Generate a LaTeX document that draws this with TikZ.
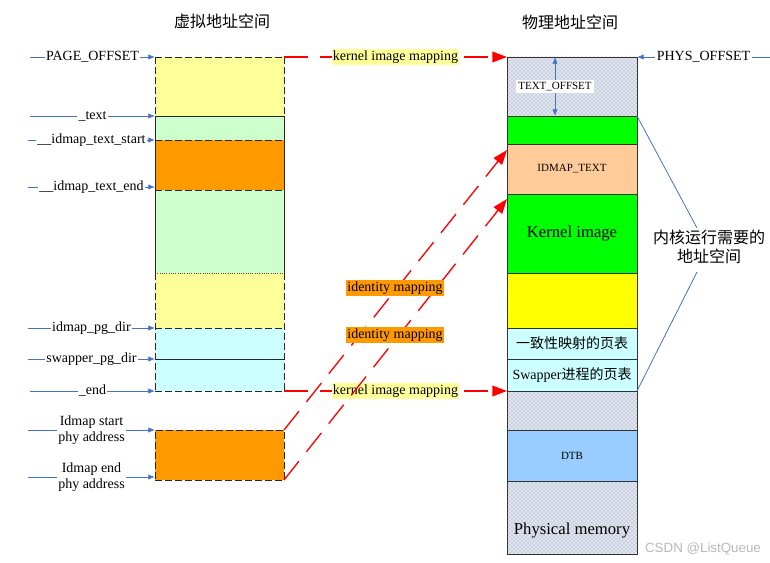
\documentclass[tikz,border=0pt]{standalone}
\usepackage{fontspec}
\setmainfont{Liberation Serif}
\newfontfamily\cjk{Noto Sans CJK SC}
\newfontfamily\wmfont{Liberation Sans}
\usetikzlibrary{arrows.meta,patterns}
\definecolor{vyellow}{HTML}{FFFF99}
\definecolor{vgreen}{HTML}{CCFFCC}
\definecolor{vorange}{HTML}{FF9900}
\definecolor{vcyan}{HTML}{CCFFFF}
\definecolor{pgreen}{HTML}{00FF00}
\definecolor{ppeach}{HTML}{FFCC99}
\definecolor{pyellow}{HTML}{FFFF00}
\definecolor{pdtb}{HTML}{99CCFF}
\definecolor{patbase}{HTML}{E0E4EE}
\definecolor{patdot}{HTML}{8E98B2}
\definecolor{blueln}{HTML}{4472C4}
\def\pxu{0.75pt}
\begin{document}
\begin{tikzpicture}[x=0.75pt,y=-0.75pt,
  seg/.style={rectangle, inner sep=0pt, outer sep=0pt, draw=none},
  vseg/.style={seg, minimum width=129*\pxu},
  pseg/.style={seg, draw=black!80, line width=0.6pt, minimum width=130*\pxu},
  patt/.style={preaction={fill=patbase}, pattern=crosshatch dots, pattern color=patdot},
  vdash/.style={draw=black!85, line width=0.7pt, dash pattern=on 5pt off 2.5pt},
  vsolid/.style={draw=black!85, line width=0.7pt},
  vdot/.style={draw=black!70, line width=0.7pt, densely dotted},
  bl/.style={draw=blueln, line width=0.6pt, -{Latex[length=5pt,width=4pt]}},
  rd/.style={draw=red, line width=1pt, dash pattern=on 18pt off 9pt, -{Triangle[length=11pt,width=8pt]}},
  lbl/.style={font=\fontsize{10.5}{12.5}\selectfont, inner sep=1pt},
  smalllbl/.style={font=\fontsize{8.25}{10}\selectfont},
  biglbl/.style={font=\fontsize{12.5}{15}\selectfont},
  cjklbl/.style={font=\cjk\fontsize{10.5}{12.5}\selectfont},
  title/.style={font=\cjk\fontsize{12}{14.5}\selectfont}
]
\useasboundingbox (0,0) rectangle (770,563);

% titles
\node[title] (t1) at (222,21) {虚拟地址空间};
\node[title] (t2) at (570,22) {物理地址空间};

% virtual address space column
\node[vseg, fill=vyellow, minimum height=59*\pxu] (v1) at (219.5,86.5) {};
\node[vseg, fill=vgreen,  minimum height=24*\pxu] (v2) at (219.5,128) {};
\node[vseg, fill=vorange, minimum height=50*\pxu] (v3) at (219.5,165) {};
\node[vseg, fill=vgreen,  minimum height=83*\pxu] (v4) at (219.5,231.5) {};
\node[vseg, fill=vyellow, minimum height=55*\pxu] (v5) at (219.5,300.5) {};
\node[vseg, fill=vcyan,   minimum height=31*\pxu] (v6) at (219.5,343.5) {};
\node[vseg, fill=vcyan,   minimum height=32*\pxu] (v7) at (219.5,375) {};
\draw[vdash] (v1.north west) -- (v1.north east);
\draw[vsolid] (v2.north west) -- (v2.north east);
\draw[vdash] (v3.north west) -- (v3.north east);
\draw[vdash] (v3.south west) -- (v3.south east);
\draw[vdot] (v5.north west) -- (v5.north east);
\draw[vdash] (v6.north west) -- (v6.north east);
\draw[vsolid] (v7.north west) -- (v7.north east);
\draw[vdash] (v7.south west) -- (v7.south east);
\draw[vdash] (v1.north west) -- (v1.south west);
\draw[vdash] (v1.north east) -- (v1.south east);
\draw[vsolid] (v2.north west) -- (v4.south west);
\draw[vsolid] (v2.north east) -- (v4.south east);
\draw[vdash] (v5.north west) -- (v7.south west);
\draw[vdash] (v5.north east) -- (v7.south east);

% idmap physical block (virtual side)
\node[vseg, fill=vorange, vdash, minimum height=50*\pxu] (io) at (219.5,455) {};

% physical address space column
\node[pseg, patt, minimum height=59*\pxu] (p1) at (572,86.5) {};
\node[pseg, fill=pgreen, minimum height=28*\pxu] (p2) at (572,130) {};
\node[pseg, fill=ppeach, minimum height=50*\pxu, smalllbl] (p3) at (572,169) {IDMAP\_TEXT};
\node[pseg, fill=pgreen, minimum height=79*\pxu, biglbl] (p4) at (572,233.5) {Kernel image};
\node[pseg, fill=pyellow, minimum height=55*\pxu] (p5) at (572,300.5) {};
\node[pseg, fill=vcyan, minimum height=31*\pxu, cjklbl] (p6) at (572,343.5) {一致性映射的页表};
\node[pseg, fill=vcyan, minimum height=32*\pxu, lbl, inner sep=0pt] (p7) at (572,375) {Swapper{\cjk 进程的页表}};
\node[pseg, patt, minimum height=39*\pxu] (p8) at (572,410.5) {};
\node[pseg, fill=pdtb, minimum height=51*\pxu, smalllbl] (p9) at (572,455.5) {DTB};
\node[pseg, patt, minimum height=73*\pxu] (p10) at (572,517.5) {};
\node[biglbl] (pm) at (572,531) {Physical memory};

% TEXT_OFFSET
\draw[draw=blueln, line width=0.6pt, {Latex[length=5pt,width=4pt]}-{Latex[length=5pt,width=4pt]}]
  ([xshift=-17*\pxu]p1.north) -- node[smalllbl, fill=white, inner sep=1.5pt] {TEXT\_OFFSET} ([xshift=-17*\pxu]p1.south);

% left pointer labels
\coordinate (c1) at (30,57);
\coordinate (c2) at (30,116);
\coordinate (c3) at (28,140);
\coordinate (c4) at (28,187);
\coordinate (c5) at (28,328);
\coordinate (c6) at (28,359);
\coordinate (c7) at (30,391);
\coordinate (c8) at (28,430);
\coordinate (c9) at (28,477);
\draw[bl] (c1) -- node[lbl, fill=white] {PAGE\_OFFSET} (v1.north west);
\draw[bl] (c2) -- node[lbl, fill=white] {\_text} (v2.north west);
\draw[bl] (c3) -- node[lbl, fill=white] {\_\_idmap\_text\_start} (v3.north west);
\draw[bl] (c4) -- node[lbl, fill=white] {\_\_idmap\_text\_end} ([yshift=3*\pxu]v3.south west);
\draw[bl] (c5) -- node[lbl, fill=white] {idmap\_pg\_dir} (v6.north west);
\draw[bl] (c6) -- node[lbl, fill=white] {swapper\_pg\_dir} (v7.north west);
\draw[bl] (c7) -- node[lbl, fill=white] {\_end} (v7.south west);
\draw[bl] (c8) -- node[lbl, fill=white, align=center] {Idmap start\\phy address} (io.north west);
\draw[bl] (c9) -- node[lbl, fill=white, align=center] {Idmap end\\phy address} ([yshift=3*\pxu]io.south west);

% PHYS_OFFSET
\coordinate (c10) at (770,57);
\draw[bl] (c10) -- node[lbl, fill=white] {PHYS\_OFFSET} (p1.north east);

% red mappings
\draw[rd] (v1.north east) -- node[lbl, fill=vyellow] {kernel image mapping} (p1.north west);
\draw[rd] (v7.south east) -- node[lbl, fill=vyellow] {kernel image mapping} (p8.north west);
\draw[rd] (io.north east) -- ([yshift=-6*\pxu]p3.north west);
\draw[rd] (io.south east) -- ([yshift=-5*\pxu]p3.south west);
\node[lbl, fill=vorange] (id1) at (395,288) {identity mapping};
\node[lbl, fill=vorange] (id2) at (395,335) {identity mapping};

% kernel runtime address space annotation
\node[font=\cjk\fontsize{12}{14.5}\selectfont, align=center] (ks) at (709,247) {内核运行需要的\\地址空间};
\coordinate (k1) at (697,228);
\coordinate (k2) at (697,272);
\draw[draw=blueln, line width=0.6pt] (p2.north east) -- (k1);
\draw[draw=blueln, line width=0.6pt] (k2) -- (p7.south east);

% watermark
\node[font=\wmfont\fontsize{10}{12}\selectfont, text=black!28] (wm) at (703,549) {CSDN @ListQueue};
\end{tikzpicture}
\end{document}
